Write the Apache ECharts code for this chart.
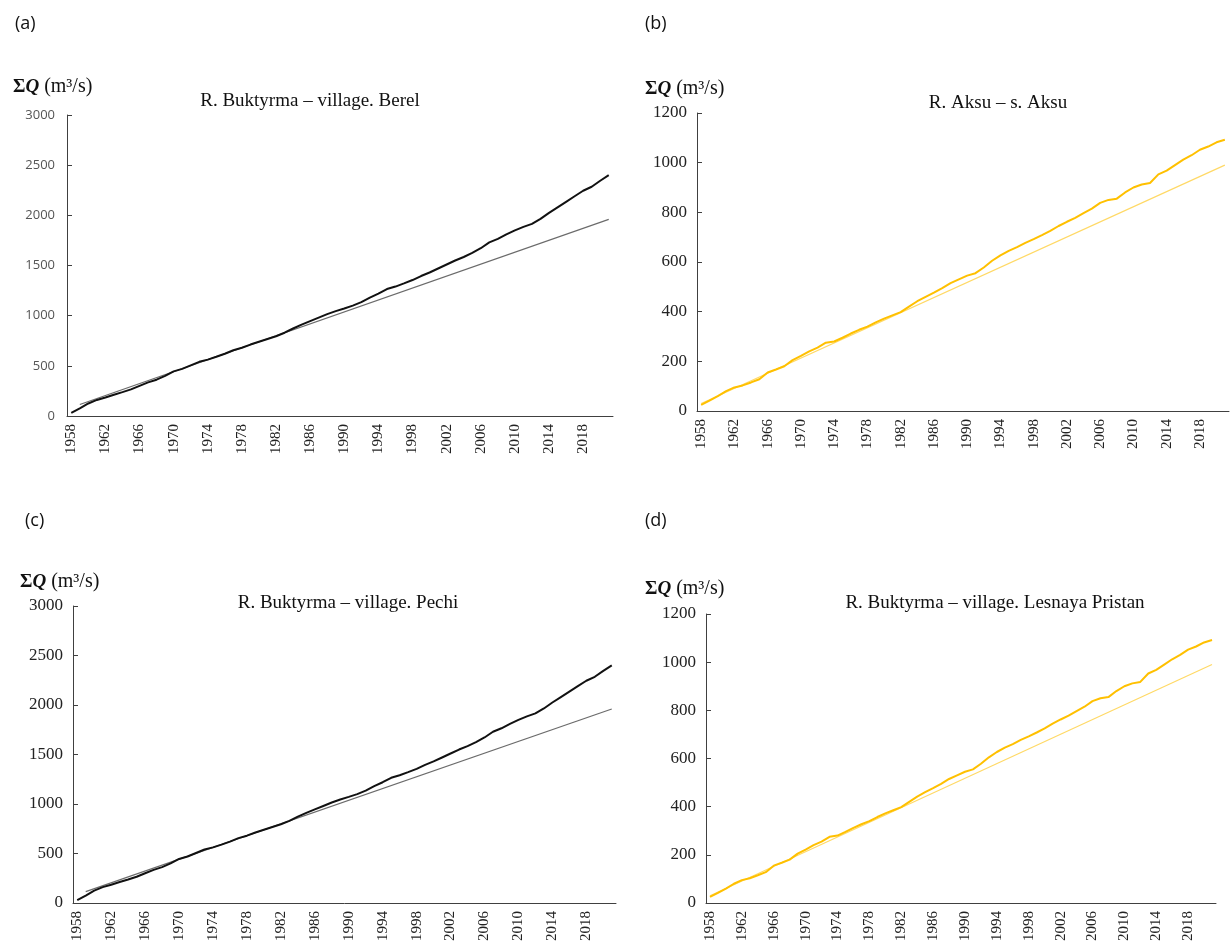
<!DOCTYPE html>
<html><head><meta charset="utf-8">
<script src="https://cdn.jsdelivr.net/npm/echarts@6/dist/echarts.min.js"></script>
<style>html,body{margin:0;padding:0;background:#fff}#c{width:1231px;height:949px}</style>
</head><body><div id="c"></div>
<script>
const years = ['1958','1959','1960','1961','1962','1963','1964','1965','1966','1967','1968','1969',
'1970','1971','1972','1973','1974','1975','1976','1977','1978','1979','1980','1981','1982','1983',
'1984','1985','1986','1987','1988','1989','1990','1991','1992','1993','1994','1995','1996','1997',
'1998','1999','2000','2001','2002','2003','2004','2005','2006','2007','2008','2009','2010','2011',
'2012','2013','2014','2015','2016','2017','2018','2019','2020','2021'];

// Buktyrma (panels a and c) cumulative discharge
const buktyrmaSum = [30,75,125,160,185,212,238,265,300,335,362,400,
445,470,505,540,562,590,620,655,680,712,740,768,795,830,
872,910,945,980,1015,1045,1072,1100,1135,1180,1220,1265,1290,1322,
1355,1395,1430,1470,1510,1550,1585,1625,1672,1730,1765,1810,1850,1885,
1915,1965,2025,2080,2135,2190,2245,2285,2345,2400];
const buktyrmaTrendYears = ['1959','2021'];
const buktyrmaTrendValues = [115,1960];

// Aksu / Lesnaya Pristan (panels b and d) cumulative discharge
const aksuSum = [25,42,60,80,95,103,115,128,155,167,180,205,
222,240,255,275,280,295,312,327,340,357,372,385,398,420,
442,460,477,495,515,530,545,555,578,605,627,645,660,677,
692,708,725,745,762,778,797,815,838,850,855,880,900,912,
918,953,968,990,1012,1030,1052,1065,1082,1092];
const aksuTrendYears = ['1958','2021'];
const aksuTrendValues = [30,990];

const panelLetters = ['(a)','(b)','(c)','(d)'];
const panelTitles = ['R. Buktyrma – village. Berel','R. Aksu – s. Aksu','R. Buktyrma – village. Pechi','R. Buktyrma – village. Lesnaya Pristan'];
const yTickMax = [3000,1200,3000,1200];
const yTickStep = [500,200,500,200];

const chart = echarts.init(document.getElementById('c'), null, {renderer:'canvas'});

const grids = [
  {left:67, top:115, width:546, height:301},
  {left:697, top:113, width:532, height:298},
  {left:73, top:606, width:543, height:297},
  {left:706, top:614, width:510, height:289}
];
const titlePos = [
  {x:305, y:87}, {x:993, y:89}, {x:343, y:589}, {x:990, y:589}
];
const yNamePos = [
  {x:8, y:72}, {x:640, y:74}, {x:15, y:567}, {x:640, y:574}
];
const letterPos = [{x:10,y:10},{x:640,y:10},{x:20,y:507},{x:640,y:507}];

const serif = "'Liberation Serif', 'DejaVu Serif', serif";

const title = [];
for (let i=0;i<4;i++){
  title.push({text:panelLetters[i], left:letterPos[i].x, top:letterPos[i].y,
    textStyle:{fontFamily:"'Open Sans','Liberation Sans',sans-serif", fontSize:18, fontWeight:'normal', color:'#111'}});
  title.push({text:panelTitles[i], left:titlePos[i].x, top:titlePos[i].y, textAlign:'center',
    textStyle:{fontFamily:serif, fontSize:19, fontWeight:'normal', color:'#111'}});
  title.push({text:'{s|Σ}{q|Q} {u|(m³/s)}', left:yNamePos[i].x, top:yNamePos[i].y,
    textStyle:{fontWeight:'normal', rich:{
      s:{fontFamily:serif, fontSize:19, fontWeight:'bold', color:'#111'},
      q:{fontFamily:serif, fontSize:19, fontWeight:'bold', fontStyle:'italic', color:'#111'},
      u:{fontFamily:serif, fontSize:20, fontWeight:'normal', color:'#111'}
    }}});
}

const xAxis = [], yAxis = [], series = [];
for (let i=0;i<4;i++){
  xAxis.push({type:'category', gridIndex:i, data:years, boundaryGap:true,
    axisLine:{lineStyle:{color:'#404040', width:1}},
    axisTick:{inside:true, length:6, interval:0, lineStyle:{color:'#404040'}},
    axisLabel:{interval:3, rotate:90, fontFamily:serif, fontSize:15, color:'#222', margin:8}
  });
  yAxis.push({type:'value', gridIndex:i, min:0, max:yTickMax[i], interval:yTickStep[i],
    splitLine:{show:false},
    axisLine:{show:true, lineStyle:{color:'#404040', width:1}},
    axisTick:{show:true, inside:true, length:5, lineStyle:{color:'#404040'}},
    axisLabel: i===0 ? {formatter:v=>String(v), fontFamily:"'Open Sans','Liberation Sans',sans-serif", fontSize:13, color:'#555', margin:12}
                     : {formatter:v=>String(v), fontFamily:serif, fontSize:17, color:'#222', margin:10}
  });
  const isB = (i===0 || i===2);
  const main = isB ? buktyrmaSum : aksuSum;
  const tY = isB ? buktyrmaTrendYears : aksuTrendYears;
  const tV = isB ? buktyrmaTrendValues : aksuTrendValues;
  series.push({type:'line', xAxisIndex:i, yAxisIndex:i, data:tY.map((y,k)=>[y,tV[k]]),
    symbol:'none', lineStyle:{width:1.2, color: isB ? '#6b6b6b' : '#FFD966'}, z:2});
  series.push({type:'line', xAxisIndex:i, yAxisIndex:i, data:main,
    symbol:'none', lineStyle:{width:2, color: isB ? '#111111' : '#FFC000'}, z:3});
}

chart.setOption({animation:false, backgroundColor:'#fff', title, grid:grids, xAxis, yAxis, series});
</script></body></html>
